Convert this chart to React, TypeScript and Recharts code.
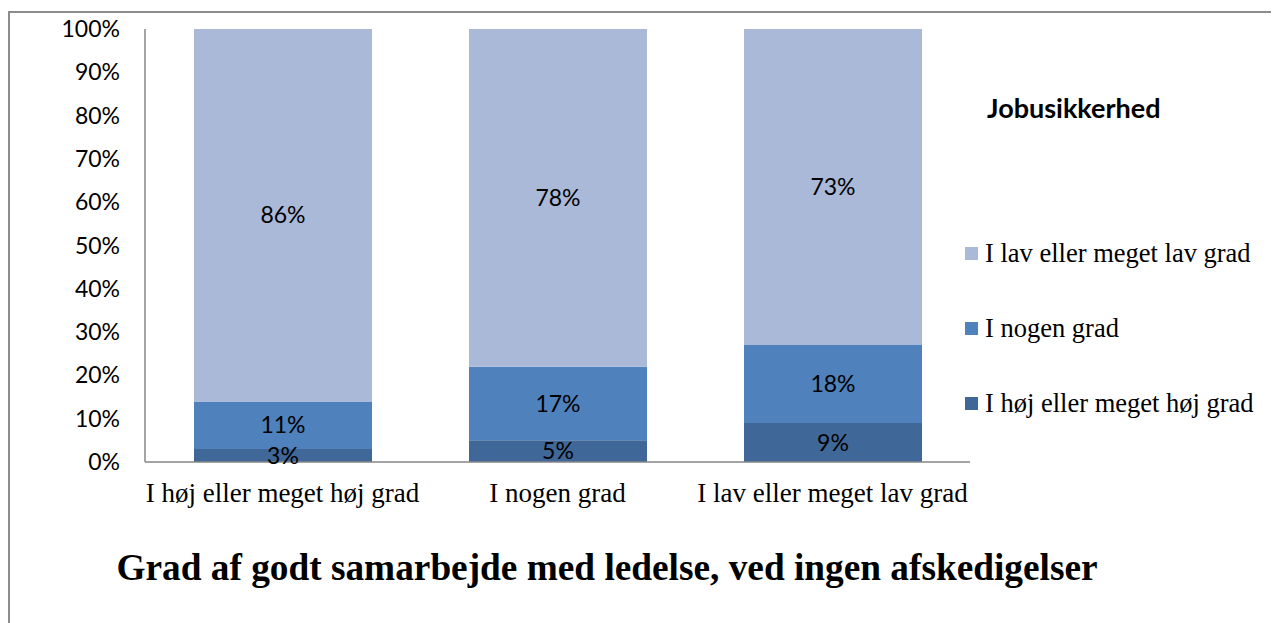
import React from "react";
import { Bar, BarChart, LabelList, XAxis, YAxis } from "recharts";

const categories = ["I høj eller meget høj grad", "I nogen grad", "I lav eller meget lav grad"];
const hoej = [3, 5, 9];
const nogen = [11, 17, 18];
const lav = [86, 78, 73];
const yTicks = [0, 10, 20, 30, 40, 50, 60, 70, 80, 90, 100];

const series = [
  { key: "hoej", name: "I høj eller meget høj grad", color: "#3F6899" },
  { key: "nogen", name: "I nogen grad", color: "#4F81BD" },
  { key: "lav", name: "I lav eller meget lav grad", color: "#AAB9D7" },
];

const data = categories.map((name, i) => ({ name, hoej: hoej[i], nogen: nogen[i], lav: lav[i] }));

const sans = "Lato, 'Liberation Sans', sans-serif";
const serif = "'Liberation Serif', 'Times New Roman', serif";

const YTick = ({ x, y, payload }: any) => (
  <text x={x - 17} y={y} dy="0.35em" textAnchor="end" fontFamily={sans} fontSize={23} fill="#000">
    {payload.value}%
  </text>
);

const XTick = ({ x, y, payload }: any) => (
  <text x={x} y={y + 23} dy="0.35em" textAnchor="middle" fontFamily={serif} fontSize={27} fill="#000">
    {payload.value}
  </text>
);

export default function App() {
  return (
    <div style={{ position: "relative", width: 1271, height: 615, overflow: "hidden" }}>
      <div
        style={{
          position: "absolute",
          left: 0,
          top: 3,
          width: 1400,
          height: 800,
          borderTop: "2px solid #8c8c8c",
          borderLeft: "2px solid #8c8c8c",
        }}
      />
      <div style={{ position: "absolute", left: 0, top: 0 }}>
        <BarChart width={1271} height={615} data={data} margin={{ top: 21, right: 309, bottom: 121, left: 0 }}>
          <XAxis
            dataKey="name"
            tickLine={false}
            axisLine={{ stroke: "#868686", strokeWidth: 1.5 }}
            height={40}
            interval={0}
            tick={<XTick />}
          />
          <YAxis
            domain={[0, 100]}
            ticks={yTicks}
            width={137}
            tickLine={false}
            axisLine={{ stroke: "#868686", strokeWidth: 1.5 }}
            tick={<YTick />}
            interval={0}
          />
          {series.map((s) => (
            <Bar key={s.key} dataKey={s.key} name={s.name} stackId="a" fill={s.color} barSize={178} isAnimationActive={false}>
              <LabelList
                dataKey={s.key}
                position="center"
                formatter={(v: any) => `${v}%`}
                fill="#000"
                fontFamily={sans}
                fontSize={23}
              />
            </Bar>
          ))}
        </BarChart>
      </div>
      <div
        style={{
          position: "absolute",
          left: 979,
          top: 85,
          fontFamily: sans,
          fontWeight: "bold",
          fontSize: 27,
          lineHeight: "30px",
          color: "#000",
        }}
      >
        Jobusikkerhed
      </div>
      {[...series].reverse().map((s, i) => (
        <div
          key={s.key}
          style={{
            position: "absolute",
            left: 957,
            top: 233 + i * 75,
            height: 24,
            display: "flex",
            alignItems: "center",
            fontFamily: serif,
            fontSize: 26.5,
            color: "#000",
            whiteSpace: "nowrap",
          }}
        >
          <span style={{ display: "inline-block", width: 13, height: 13, background: s.color, marginRight: 7 }} />
          {s.name}
        </div>
      ))}
      <div
        style={{
          position: "absolute",
          left: 0,
          width: 1198,
          top: 560 - 22,
          textAlign: "center",
          fontFamily: serif,
          fontWeight: "bold",
          fontSize: 37.3,
          lineHeight: "44px",
          color: "#000",
        }}
      >
        Grad af godt samarbejde med ledelse, ved ingen afskedigelser
      </div>
    </div>
  );
}
